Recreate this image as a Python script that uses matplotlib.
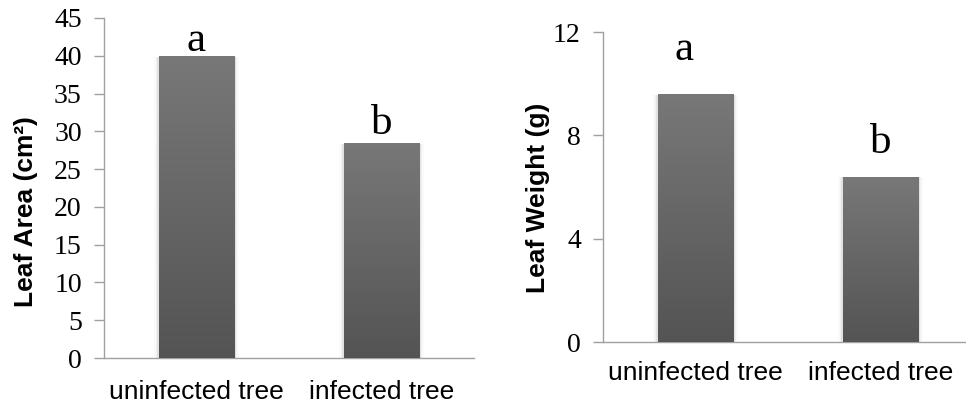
import numpy as np
import matplotlib
matplotlib.use("Agg")
import matplotlib.pyplot as plt
from matplotlib.patches import Rectangle
from matplotlib.colors import LinearSegmentedColormap

# --- data ---
categories = ["uninfected tree", "infected tree"]
leaf_area = [40.0, 28.5]
leaf_weight = [9.6, 6.4]
area_letters = ["a", "b"]
weight_letters = ["a", "b"]
area_letter_y = [40.6, 29.6]
weight_letter_y = [10.9, 7.3]

SERIF = "Liberation Serif"
SANS = "Liberation Sans"
BAR_W = 0.41
AXIS_GRAY = "#a0a0a0"

fig = plt.figure(figsize=(9.66, 4.07), dpi=100)
grad = np.linspace(0, 1, 256).reshape(-1, 1)
cmap = LinearSegmentedColormap.from_list("g", ["#545454", "#787878"])


def gradient_bars(ax, values):
    x = np.arange(len(values))
    bars = ax.bar(x, values, width=BAR_W, color="none", zorder=3)
    for b in bars:
        x0, w, h = b.get_x(), b.get_width(), b.get_height()
        # soft shadow at the sides
        for k, a in enumerate([0.06, 0.035, 0.02]):
            d = 0.008 * (k + 1)
            ax.add_patch(Rectangle((x0 - d, 0), w + 2 * d, h * 0.995,
                                   color="black", alpha=a, lw=0, zorder=2))
        im = ax.imshow(grad, cmap=cmap, origin="lower",
                       extent=(x0, x0 + w, 0, h), aspect="auto", zorder=3)
        im.set_clip_path(b)
    return x


def style(ax, ylim, yticks, ylabel, xlab_pad):
    ax.set_xlim(-0.5, 1.5)
    ax.set_ylim(*ylim)
    ax.set_yticks(yticks)
    ax.set_yticklabels([str(t) for t in yticks], fontfamily=SERIF, fontsize=20)
    ax.set_xticks([0, 1])
    ax.set_xticklabels(categories, fontfamily=SANS, fontsize=19)
    ax.tick_params(axis="x", length=0, pad=xlab_pad)
    ax.tick_params(axis="y", length=7, width=1, color=AXIS_GRAY, pad=9)
    for s in ["top", "right"]:
        ax.spines[s].set_visible(False)
    for s in ["left", "bottom"]:
        ax.spines[s].set_color(AXIS_GRAY)
        ax.spines[s].set_linewidth(1)
    ax.set_ylabel(ylabel, fontfamily=SANS, fontsize=19, fontweight="bold")


# --- left: leaf area ---
ax1 = fig.add_axes([104 / 966, 49 / 407, 370 / 966, 340 / 407])
x = gradient_bars(ax1, leaf_area)
style(ax1, (0, 45), list(range(0, 46, 5)), "Leaf Area (cm²)", 16)
ax1.yaxis.set_label_coords(-0.178, 0.43)
for xi, lab, yl in zip(x, area_letters, area_letter_y):
    ax1.text(xi, yl, lab, ha="center", va="baseline", fontfamily=SERIF, fontsize=31)

# --- right: leaf weight ---
ax2 = fig.add_axes([603 / 966, 65 / 407, 370 / 966, 310 / 407])
x = gradient_bars(ax2, leaf_weight)
style(ax2, (0, 12), [0, 4, 8, 12], "Leaf Weight (g)", 14)
ax2.yaxis.set_label_coords(-0.143, 0.465)
for xi, lab, yl in zip(x, weight_letters, weight_letter_y):
    ax2.text(xi - (0.06 if lab == "a" else 0), yl, lab, ha="center", va="baseline",
             fontfamily=SERIF, fontsize=31)

fig.savefig("out.png", dpi=100)
